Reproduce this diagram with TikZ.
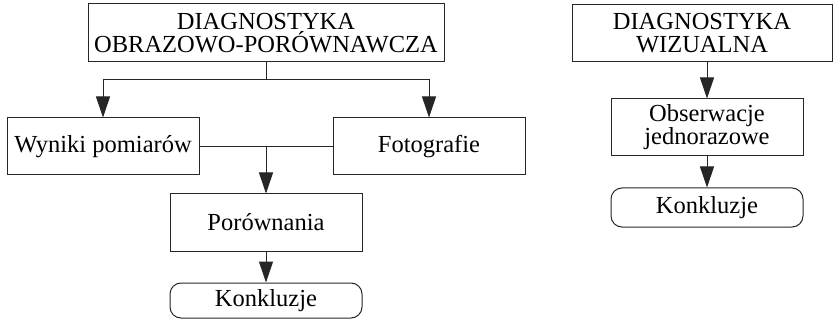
\documentclass[tikz,border=0pt]{standalone}
\usepackage{fontspec}
\setmainfont{Liberation Serif}
\usepackage{tikz}
\usetikzlibrary{arrows.meta}
\tikzstyle{block}=[draw=black!85, line width=1pt, inner sep=0pt, align=center, font=\fontsize{24.5}{23}\selectfont]
\tikzstyle{ending}=[block, rounded corners=11pt]
\tikzstyle{link}=[draw=black!85, line width=1pt]
\tikzstyle{flow}=[link, -{Triangle[length=21pt, width=14pt]}]

\begin{document}
\begin{tikzpicture}[x=1pt, y=-1pt]
        \useasboundingbox (0,0) rectangle (834,320);
        % left chain
        \node[block, minimum width=356pt, minimum height=58pt] (obraz) at (266,33) {DIAGNOSTYKA\\OBRAZOWO-PORÓWNAWCZA};
        \node[block, minimum width=192pt, minimum height=57pt] (wyniki) at (103,146.5) {Wyniki pomiarów};
        \node[block, minimum width=192pt, minimum height=57pt] (foto) at (429,146.5) {Fotografie};
        \node[block, minimum width=192pt, minimum height=57pt] (porown) at (266,222.5) {Porównania};
        \node[ending, minimum width=192pt, minimum height=35pt] (konkl) at (266,300.5) {Konkluzje};
        \coordinate (fork) at (266,80);
        \coordinate (join) at (266,146.5);
        \draw[link] (obraz.south) -- (fork);
        \draw[flow] (fork) -| (wyniki.north);
        \draw[flow] (fork) -| (foto.north);
        \draw[link] (wyniki.east) -- (foto.west);
        \draw[flow] (join) -- (porown.north);
        \draw[flow] (porown) -- (konkl);
        % right chain
        \node[block, minimum width=260pt, minimum height=57pt] (wizual) at (702,33.5) {DIAGNOSTYKA\\WIZUALNA};
        \node[block, minimum width=192pt, minimum height=57pt] (obserw) at (707,127.5) {Obserwacje\\jednorazowe};
        \node[ending, minimum width=192pt, minimum height=39pt] (konkr) at (707,207.5) {Konkluzje};
        \draw[flow] (wizual.south -| obserw.north) -- (obserw.north);
        \draw[flow] (obserw) -- (konkr);
\end{tikzpicture}
\end{document}
